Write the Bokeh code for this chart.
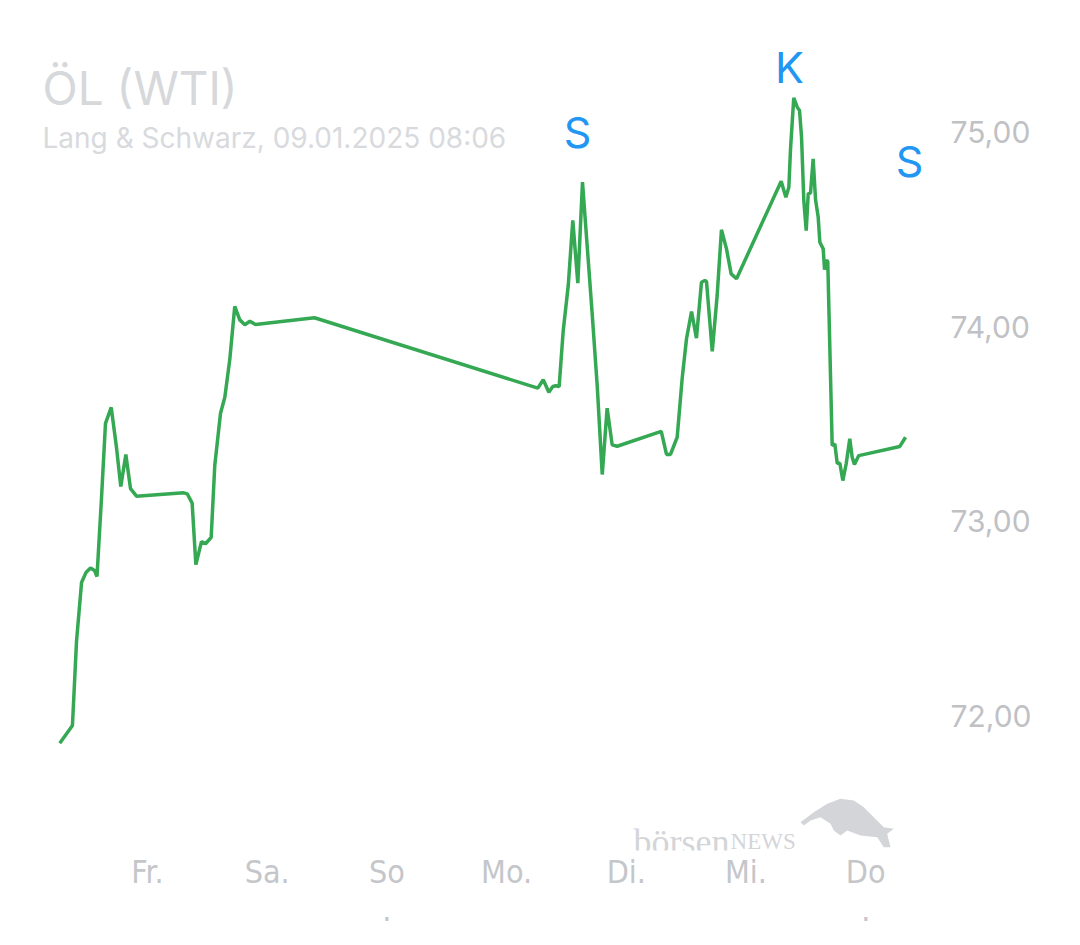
from bokeh.plotting import figure
from bokeh.models import Range1d, FixedTicker, Label, ColumnDataSource, PolyAnnotation
from bokeh.core.properties import value
from bokeh.embed import file_html
from bokeh.resources import INLINE

# time in days since Thu 02.01.2025 00:00 (1 = Fr., 7 = Do)
times = [0.267, 0.373, 0.407, 0.449, 0.486, 0.524, 0.557, 0.578, 0.616, 0.649,
         0.697, 0.741, 0.777, 0.819, 0.858, 0.908, 1.303, 1.332, 1.373, 1.404,
         1.451, 1.485, 1.532, 1.562, 1.610, 1.646, 1.688, 1.729, 1.771, 1.813,
         1.855, 1.902, 2.395, 4.261, 4.306, 4.353, 4.386, 4.411, 4.439, 4.473,
         4.515, 4.553, 4.595, 4.634, 4.673, 4.715, 4.757, 4.799, 4.840, 4.882,
         4.924, 5.292, 5.336, 5.369, 5.425, 5.467, 5.503, 5.545, 5.586, 5.628,
         5.656, 5.670, 5.718, 5.759, 5.795, 5.837, 5.876, 5.921, 6.294, 6.333,
         6.358, 6.372, 6.399, 6.428, 6.447, 6.464, 6.483, 6.503, 6.520, 6.539,
         6.561, 6.581, 6.603, 6.617, 6.645, 6.656, 6.670, 6.683, 6.720, 6.742,
         6.762, 6.784, 6.809, 6.837, 6.867, 6.887, 6.906, 6.942, 7.285, 7.333]

prices = [71.863, 71.954, 72.385, 72.687, 72.738, 72.762, 72.749, 72.718, 73.123, 73.503,
          73.585, 73.379, 73.179, 73.344, 73.169, 73.130, 73.147, 73.142, 73.094, 72.779,
          72.897, 72.886, 72.919, 73.287, 73.555, 73.637, 73.834, 74.103, 74.034, 74.009,
          74.027, 74.010, 74.045, 73.684, 73.727, 73.663, 73.692, 73.696, 73.692, 73.979,
          74.210, 74.544, 74.222, 74.740, 74.415, 74.065, 73.697, 73.241, 73.581, 73.393,
          73.386, 73.462, 73.344, 73.344, 73.432, 73.735, 73.937, 74.077, 73.940, 74.227,
          74.236, 74.231, 73.872, 74.159, 74.496, 74.398, 74.270, 74.245, 74.745, 74.663,
          74.714, 74.911, 75.173, 75.125, 75.108, 74.971, 74.646, 74.492, 74.681, 74.684,
          74.860, 74.650, 74.561, 74.432, 74.398, 74.291, 74.338, 74.335, 73.390, 73.398,
          73.299, 73.299, 73.210, 73.296, 73.424, 73.330, 73.292, 73.338, 73.385, 73.432]

day_ticks = [1, 2, 3, 4, 5, 6, 7]
day_labels = ["Fr.", "Sa.", "So\n.", "Mo.", "Di.", "Mi.", "Do\n."]
price_ticks = [72, 73, 74, 75]
price_labels = ["72,00", "73,00", "74,00", "75,00"]

signal_times = [4.592, 6.363, 7.366]
signal_levels = [74.995, 75.333, 74.851]
signal_labels = ["S", "K", "S"]

title_text = "ÖL (WTI)"
subtitle_text = "Lang & Schwarz, 09.01.2025 08:06"

p = figure(width=1068, height=937, output_backend="svg", toolbar_location=None,
           x_range=Range1d(-0.1612, 7.5831), y_range=Range1d(71.3128, 75.6308),
           y_axis_location="right",
           min_border_left=8, min_border_top=8, min_border_right=133, min_border_bottom=87)

p.outline_line_color = None
p.xgrid.visible = False
p.ygrid.visible = False
p.background_fill_color = "white"
p.border_fill_color = "white"

# x axis
xa = p.xaxis[0]
xa.ticker = FixedTicker(ticks=day_ticks)
xa.major_label_overrides = {t: l for t, l in zip(day_ticks, day_labels)}
xa.axis_line_color = None
xa.major_tick_line_color = None
xa.minor_tick_line_color = None
xa.major_tick_out = 0
xa.major_label_standoff = 2
xa.major_label_text_font = "DejaVu Sans Condensed"
xa.major_label_text_font_size = "32px"
xa.major_label_text_line_height = 1.0
xa.major_label_text_color = "#c4c6ca"

# y axis (right)
ya = p.yaxis[0]
ya.ticker = FixedTicker(ticks=price_ticks)
ya.major_label_overrides = {t: l for t, l in zip(price_ticks, price_labels)}
ya.axis_line_color = None
ya.major_tick_line_color = None
ya.minor_tick_line_color = None
ya.major_tick_out = 0
ya.major_label_standoff = 15
ya.major_label_text_font = "Inter"
ya.major_label_text_font_size = "30px"
ya.major_label_text_color = "#bfc1c5"

# price line
src = ColumnDataSource(data=dict(t=times, price=prices))
p.line("t", "price", source=src, line_color="#34a853", line_width=3.5)

# signals
sig = ColumnDataSource(data=dict(t=signal_times, y=signal_levels, label=signal_labels))
p.text("t", "y", text="label", source=sig, text_font=value("Inter"),
       text_font_size="43px", text_color="#2196f3", text_align="center",
       text_baseline="middle")

# titles
p.add_layout(Label(x=0.1228, y=75.225, text=title_text, text_font="Inter",
                   text_font_size="46px", text_color="#d6d8db",
                   text_align="left", text_baseline="alphabetic"))
p.add_layout(Label(x=0.1228, y=74.965, text=subtitle_text, text_font="Inter",
                   text_font_size="28px", text_color="#d8dadd",
                   text_align="left", text_baseline="alphabetic"))

# watermark
p.add_layout(Label(x=5.060, y=71.358, text="börsen", text_font="Liberation Serif",
                   text_font_size="36px", text_color="#d3d5d8",
                   text_align="left", text_baseline="alphabetic"))
p.add_layout(Label(x=5.871, y=71.358, text="NEWS", text_font="Liberation Serif",
                   text_font_size="23px", text_color="#d3d5d8",
                   text_align="left", text_baseline="alphabetic"))


def px_x(px):
    return 1 + (px - 147) / 119.7


def px_y(py):
    return 75 - (py - 131) / 195


logo_outline = [(800, 821.7), (813.3, 811.7), (826.7, 803.3), (840, 798.3), (853.3, 800),
                (863.3, 806.7), (873.3, 816.7), (883.3, 826.7), (893.3, 828.3), (886.7, 833.3),
                (890, 846.7), (883.3, 846.7), (876.7, 836.7), (860, 835), (846.7, 830),
                (840, 835), (833.3, 830), (830, 823.3), (820, 816.7), (810, 820), (803.3, 825)]
p.add_layout(PolyAnnotation(xs=[px_x(a) for a, b in logo_outline],
                            ys=[px_y(b) for a, b in logo_outline],
                            fill_color="#d3d5d8", fill_alpha=1.0, line_color=None))

open("out.html", "w").write(file_html(p, INLINE))
